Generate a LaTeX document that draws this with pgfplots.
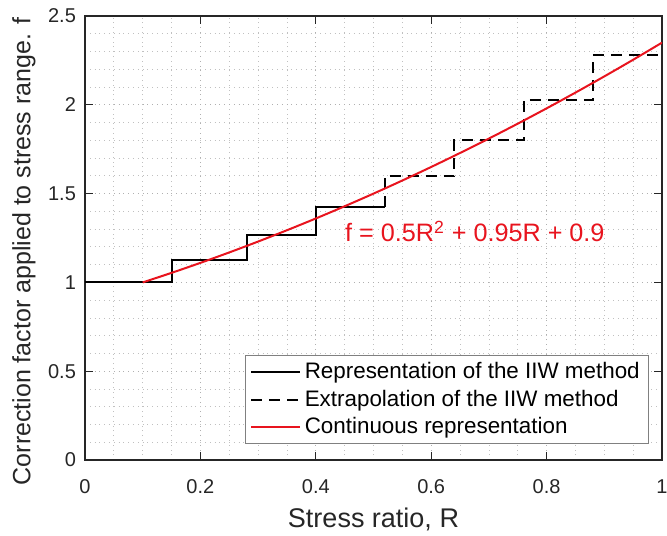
\documentclass[border=0pt]{standalone}
\usepackage{fontspec}
\setmainfont{Liberation Sans}
\usepackage{pgfplots}
\pgfplotsset{compat=1.18}
\definecolor{axgray}{HTML}{262626}
\definecolor{gridgray}{HTML}{B0B0B0}
\definecolor{mred}{HTML}{E8141E}
\begin{document}
\begin{tikzpicture}
\useasboundingbox (-42.5pt,-37.5pt) rectangle (291pt,230pt);
\begin{axis}[
  name=ax,
  at={(0,0)}, anchor=south west,
  scale only axis,
  width=288.5pt, height=222pt,
  xmin=0, xmax=1, ymin=0, ymax=2.5,
  xtick={0,0.2,0.4,0.6,0.8,1},
  ytick={0,0.5,1,1.5,2,2.5},
  minor x tick num=3,
  minor y tick num=4,
  tick align=inside,
  xtick pos=both, ytick pos=both,
  major tick length=4pt,
  minor tick length=0pt,
  axis line style={axgray, line width=0.6pt},
  tick style={axgray, line width=0.6pt},
  grid=both,
  major grid style={gridgray, dotted, line width=0.5pt},
  minor grid style={gridgray!80, dotted, line width=0.4pt},
  /pgf/number format/assume math mode=true,
  ticklabel style={font=\fontsize{10}{12}\selectfont, text=axgray},
  xticklabel shift=6.3pt,
  yticklabel shift=1pt,
  xlabel={Stress ratio, R},
  ylabel={Correction factor applied to stress range. f},
  xlabel style={font=\fontsize{13.5}{15}\selectfont, text=axgray,
    at={(axis description cs:0.5,-0.135)}, anchor=center},
  ylabel style={font=\fontsize{12.5}{14}\selectfont, text=axgray,
    at={(axis description cs:-0.106,0.47)}, anchor=center},
  legend style={
    at={(0.978,0.036)}, anchor=south east,
    draw=gray, line width=0.6pt,
    font=\fontsize{11.2}{13.5}\selectfont,
    row sep=0pt,
    inner xsep=2.5pt, inner ysep=1.5pt,
  },
  legend cell align=left,
  legend image code/.code={\draw[#1] (0cm,0cm) -- (0.85cm,0cm);},
]
\addplot[black, line width=1pt] coordinates {
  (0,1) (0.15,1) (0.15,1.125) (0.28,1.125) (0.28,1.265) (0.40,1.265)
  (0.40,1.423) (0.52,1.423)
};
\addlegendentry{Representation of the IIW method}
\addplot[black, line width=1pt, dash pattern=on 5.5pt off 3.5pt] coordinates {
  (0.52,1.423) (0.52,1.60) (0.64,1.60) (0.64,1.80) (0.76,1.80)
  (0.76,2.026) (0.88,2.026) (0.88,2.28) (1.0,2.28)
};
\addlegendentry{Extrapolation of the IIW method}
\addplot[mred, line width=1pt, smooth] coordinates {
  (0.10,1.000) (0.15,1.05375) (0.20,1.110) (0.25,1.16875) (0.30,1.230)
  (0.35,1.29375) (0.40,1.360) (0.45,1.42875) (0.50,1.500) (0.55,1.57375)
  (0.60,1.650) (0.65,1.72875) (0.70,1.810) (0.75,1.89375) (0.80,1.980)
  (0.85,2.06875) (0.90,2.160) (0.95,2.25375) (1.00,2.350)
};
\addlegendentry{Continuous representation}
\node[anchor=base west, text=mred, font=\fontsize{12.6}{14}\selectfont, inner sep=0pt]
  at (axis cs:0.45,1.229) {f = 0.5R\textsuperscript{2} + 0.95R + 0.9};
\end{axis}
\end{tikzpicture}
\end{document}
